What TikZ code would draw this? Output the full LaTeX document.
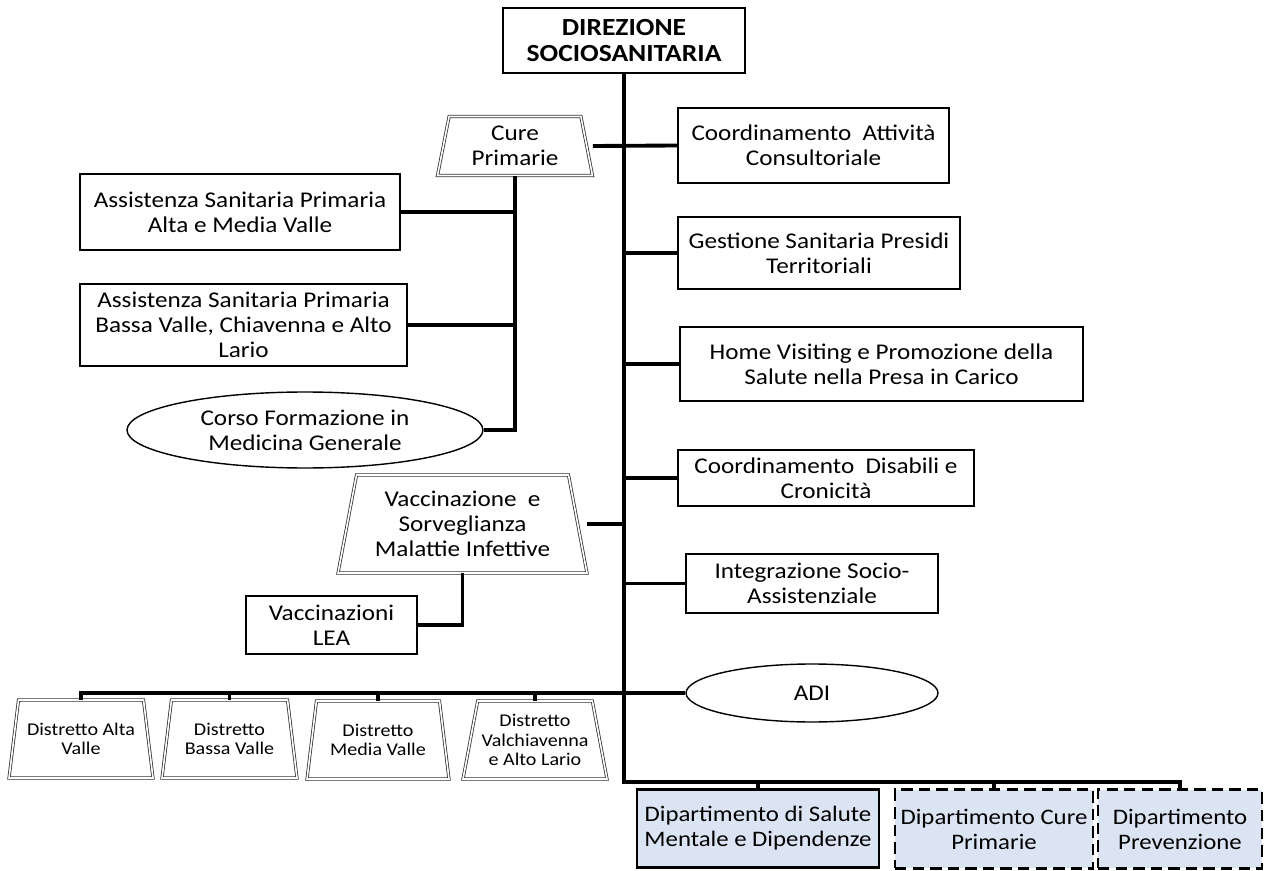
\documentclass[tikz,border=0pt]{standalone}
\usepackage{fontspec}
\setmainfont[FakeStretch=1.12]{Carlito}
\usetikzlibrary{positioning,shapes.geometric,calc}
\definecolor{deptblue}{RGB}{219,228,242}

\begin{document}
\begin{tikzpicture}[x=0.02cm,y=-0.02cm,
    txt/.style={font=\fontsize{12.8}{14.2}\selectfont},
    box/.style={txt,draw,line width=0.8pt,align=center,inner sep=1pt},
    trap/.style={txt,trapezium,trapezium angle=75,trapezium stretches body,draw=black!80,line width=0.45pt,double,double distance=0.9pt,align=center,inner sep=1pt},
    oval/.style={txt,ellipse,draw,line width=0.8pt,align=center,inner sep=0pt},
    dist/.style={trap,font=\fontsize{10.2}{11}\selectfont,minimum width=2.88cm,minimum height=1.56cm},
    dept/.style={box,font=\fontsize{12.6}{14.2}\selectfont,fill=deptblue,line width=1.6pt,minimum height=1.57cm},
    deptd/.style={dept,dash pattern=on 6.5pt off 3.5pt},
    conn/.style={line width=2.2pt}]
    \useasboundingbox (0,0) rectangle (1271,871);

    % top
    \node[box,line width=1.6pt,font=\fontsize{14}{14.8}\selectfont\bfseries,minimum width=4.84cm,minimum height=1.3cm] (dir) at (624,40.5) {DIREZIONE\\SOCIOSANITARIA};
    \coordinate (bot) at (624,782);

    % left side
    \node[trap,minimum width=3.1cm,minimum height=1.18cm] (cure) at (515,146) {Cure\\Primarie};
    \node[box,minimum width=6.4cm,minimum height=1.52cm] (asp1) at (240,212) {Assistenza Sanitaria Primaria\\Alta e Media Valle};
    \node[box,minimum width=6.54cm,minimum height=1.64cm] (asp2) at (243.5,325) {Assistenza Sanitaria Primaria\\Bassa Valle, Chiavenna e Alto\\Lario};
    \node[oval,minimum width=7.12cm,minimum height=1.52cm] (corso) at (305,430) {Corso Formazione in\\Medicina Generale};
    \node[trap,minimum width=4.98cm,minimum height=1.96cm] (vacc) at (462.5,524) {Vaccinazione\enspace e\\Sorveglianza\\Malattie Infettive};
    \node[box,minimum width=3.42cm,minimum height=1.16cm] (lea) at (331.5,625) {Vaccinazioni\\LEA};

    % right side
    \node[box,minimum width=5.42cm,minimum height=1.5cm] (coord) at (813.5,145.5) {Coordinamento\enspace Attività\\Consultoriale};
    \node[box,minimum width=5.64cm,minimum height=1.44cm] (gest) at (819,253) {Gestione Sanitaria Presidi\\Territoriali};
    \node[box,minimum width=8.06cm,minimum height=1.48cm] (home) at (881.5,364) {Home Visiting e Promozione della\\Salute nella Presa in Carico};
    \node[box,minimum width=5.92cm,minimum height=1.12cm] (disab) at (826,478) {Coordinamento\enspace Disabili e\\Cronicità};
    \node[box,minimum width=5.04cm,minimum height=1.18cm] (integ) at (812,583.5) {Integrazione Socio-\\Assistenziale};
    \node[oval,minimum width=5.04cm,minimum height=1.16cm] (adi) at (812,693) {ADI};

    % districts
    \node[dist] (d1) at (81,739) {Distretto Alta\\Valle};
    \node[dist,minimum width=2.7cm] (d2) at (229.5,739) {Distretto\\Bassa Valle};
    \node[dist,minimum width=2.84cm] (d3) at (378,740) {Distretto\\Media Valle};
    \node[dist] (d4) at (535,740) {Distretto\\Valchiavenna\\e Alto Lario};

    % departments
    \node[dept,minimum width=4.84cm] (dep1) at (758,828.5) {Dipartimento di Salute\\Mentale e Dipendenze};
    \node[deptd,minimum width=3.96cm] (dep2) at (994,829) {Dipartimento Cure\\Primarie};
    \node[deptd,minimum width=3.28cm] (dep3) at (1180,829) {Dipartimento\\Prevenzione};

    % connectors
    \draw[conn] (dir.south) -- (bot) -| (dep3.north);
    \draw[conn] (dep1.north) -- (dep1.north |- bot);
    \draw[conn] (dep2.north) -- (dep2.north |- bot);
    \draw[conn] (cure.east -| cure.bottom right corner) -- (coord.west);
    \draw[conn] (cure.south) |- (corso.east);
    \draw[conn] (asp1.east) -- (asp1.east -| cure.south);
    \draw[conn] (asp2.east) -- (asp2.east -| cure.south);
    \draw[conn] (vacc.east -| vacc.bottom right corner) -- (vacc.east -| dir.south);
    \draw[conn] (vacc.south) |- (lea.east);
    \draw[conn] (gest.west -| dir.south) -- (gest.west);
    \draw[conn] (home.west -| dir.south) -- (home.west);
    \draw[conn] (disab.west -| dir.south) -- (disab.west);
    \draw[conn] (integ.west -| dir.south) -- (integ.west);
    \draw[conn] (d1.north) |- (adi.west);
    \draw[conn] (d2.north) -- (d2.north |- adi.west);
    \draw[conn] (d3.north) -- (d3.north |- adi.west);
    \draw[conn] (d4.north) -- (d4.north |- adi.west);
\end{tikzpicture}
\end{document}
